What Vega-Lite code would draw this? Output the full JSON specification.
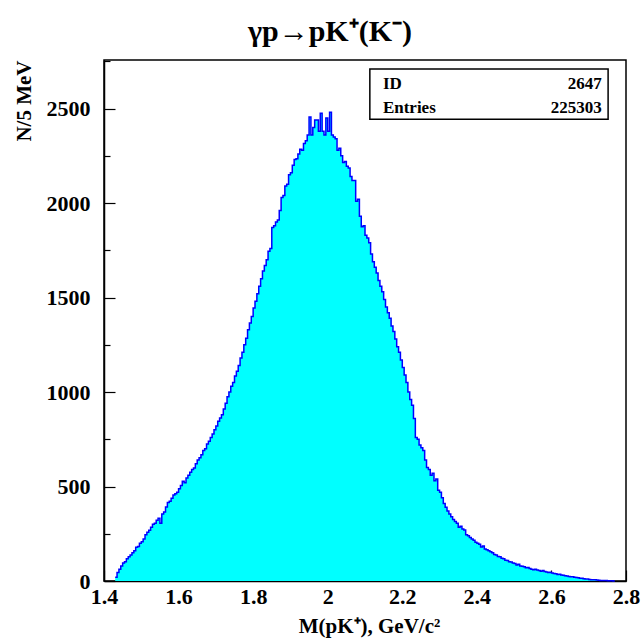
{
"$schema": "https://vega.github.io/schema/vega-lite/v6.json",
"width": 522, "height": 521,
"autosize": {"type": "none"},
"padding": {"left": 104, "top": 60, "right": 17, "bottom": 59},
"background": "white",
"config": {"view": {"stroke": "black", "strokeWidth": 1.5}, "font": "Liberation Serif"},
"title": {"text": "γp→pK⁺(K⁻)", "fontSize": 30, "fontWeight": "bold", "font": "Liberation Serif", "anchor": "middle", "dx": -35, "dy": 38, "offset": 17, "baseline": "alphabetic", "color": "black"},
"datasets": {"hist": [
{"m":1.430,"n":20},{"m":1.435,"n":45},{"m":1.440,"n":62},{"m":1.445,"n":80},{"m":1.450,"n":95},{"m":1.455,"n":102},{"m":1.460,"n":118},{"m":1.465,"n":128},{"m":1.470,"n":138},{"m":1.475,"n":150},
{"m":1.480,"n":160},{"m":1.485,"n":178},{"m":1.490,"n":182},{"m":1.495,"n":200},{"m":1.500,"n":208},{"m":1.505,"n":222},{"m":1.510,"n":245},{"m":1.515,"n":258},{"m":1.520,"n":268},{"m":1.525,"n":285},
{"m":1.530,"n":300},{"m":1.535,"n":305},{"m":1.540,"n":322},{"m":1.545,"n":332},{"m":1.550,"n":305},{"m":1.555,"n":355},{"m":1.560,"n":365},{"m":1.565,"n":392},{"m":1.570,"n":415},{"m":1.575,"n":422},
{"m":1.580,"n":438},{"m":1.585,"n":455},{"m":1.590,"n":462},{"m":1.595,"n":470},{"m":1.600,"n":488},{"m":1.605,"n":505},{"m":1.610,"n":528},{"m":1.615,"n":520},{"m":1.620,"n":545},{"m":1.625,"n":560},
{"m":1.630,"n":575},{"m":1.635,"n":590},{"m":1.640,"n":598},{"m":1.645,"n":620},{"m":1.650,"n":640},{"m":1.655,"n":652},{"m":1.660,"n":668},{"m":1.665,"n":690},{"m":1.670,"n":700},{"m":1.675,"n":725},
{"m":1.680,"n":740},{"m":1.685,"n":760},{"m":1.690,"n":778},{"m":1.695,"n":800},{"m":1.700,"n":820},{"m":1.705,"n":845},{"m":1.710,"n":862},{"m":1.715,"n":880},{"m":1.720,"n":910},{"m":1.725,"n":940},
{"m":1.730,"n":975},{"m":1.735,"n":1000},{"m":1.740,"n":1030},{"m":1.745,"n":1050},{"m":1.750,"n":1085},{"m":1.755,"n":1110},{"m":1.760,"n":1140},{"m":1.765,"n":1180},{"m":1.770,"n":1210},{"m":1.775,"n":1250},
{"m":1.780,"n":1285},{"m":1.785,"n":1330},{"m":1.790,"n":1365},{"m":1.795,"n":1400},{"m":1.800,"n":1445},{"m":1.805,"n":1480},{"m":1.810,"n":1520},{"m":1.815,"n":1560},{"m":1.820,"n":1600},{"m":1.825,"n":1640},
{"m":1.830,"n":1670},{"m":1.835,"n":1700},{"m":1.840,"n":1745},{"m":1.845,"n":1760},{"m":1.850,"n":1870},{"m":1.855,"n":1880},{"m":1.860,"n":1900},{"m":1.865,"n":1910},{"m":1.870,"n":1960},{"m":1.875,"n":2030},
{"m":1.880,"n":2040},{"m":1.885,"n":2090},{"m":1.890,"n":2100},{"m":1.895,"n":2150},{"m":1.900,"n":2160},{"m":1.905,"n":2200},{"m":1.910,"n":2230},{"m":1.915,"n":2235},{"m":1.920,"n":2260},{"m":1.925,"n":2285},
{"m":1.930,"n":2280},{"m":1.935,"n":2315},{"m":1.940,"n":2330},{"m":1.945,"n":2360},{"m":1.950,"n":2455},{"m":1.955,"n":2360},{"m":1.960,"n":2400},{"m":1.965,"n":2440},{"m":1.970,"n":2440},{"m":1.975,"n":2380},
{"m":1.980,"n":2475},{"m":1.985,"n":2380},{"m":1.990,"n":2360},{"m":1.995,"n":2450},{"m":2.000,"n":2380},{"m":2.005,"n":2480},{"m":2.010,"n":2360},{"m":2.015,"n":2350},{"m":2.020,"n":2340},{"m":2.025,"n":2280},
{"m":2.030,"n":2290},{"m":2.035,"n":2250},{"m":2.040,"n":2215},{"m":2.045,"n":2220},{"m":2.050,"n":2195},{"m":2.055,"n":2185},{"m":2.060,"n":2140},{"m":2.065,"n":2120},{"m":2.070,"n":2120},{"m":2.075,"n":2010},
{"m":2.080,"n":2020},{"m":2.085,"n":1930},{"m":2.090,"n":1875},{"m":2.095,"n":1880},{"m":2.100,"n":1830},{"m":2.105,"n":1815},{"m":2.110,"n":1790},{"m":2.115,"n":1730},{"m":2.120,"n":1690},{"m":2.125,"n":1660},
{"m":2.130,"n":1630},{"m":2.135,"n":1590},{"m":2.140,"n":1560},{"m":2.145,"n":1530},{"m":2.150,"n":1490},{"m":2.155,"n":1450},{"m":2.160,"n":1420},{"m":2.165,"n":1390},{"m":2.170,"n":1350},{"m":2.175,"n":1320},
{"m":2.180,"n":1280},{"m":2.185,"n":1240},{"m":2.190,"n":1210},{"m":2.195,"n":1170},{"m":2.200,"n":1130},{"m":2.205,"n":1090},{"m":2.210,"n":1050},{"m":2.215,"n":1000},{"m":2.220,"n":960},{"m":2.225,"n":930},
{"m":2.230,"n":860},{"m":2.235,"n":760},{"m":2.240,"n":750},{"m":2.245,"n":720},{"m":2.250,"n":705},{"m":2.255,"n":690},{"m":2.260,"n":640},{"m":2.265,"n":600},{"m":2.270,"n":590},{"m":2.275,"n":560},
{"m":2.280,"n":570},{"m":2.285,"n":530},{"m":2.290,"n":540},{"m":2.295,"n":480},{"m":2.300,"n":470},{"m":2.305,"n":440},{"m":2.310,"n":410},{"m":2.315,"n":390},{"m":2.320,"n":370},{"m":2.325,"n":355},
{"m":2.330,"n":340},{"m":2.335,"n":325},{"m":2.340,"n":315},{"m":2.345,"n":305},{"m":2.350,"n":285},{"m":2.355,"n":290},{"m":2.360,"n":275},{"m":2.365,"n":270},{"m":2.370,"n":245},{"m":2.375,"n":240},
{"m":2.380,"n":230},{"m":2.385,"n":222},{"m":2.390,"n":215},{"m":2.395,"n":205},{"m":2.400,"n":200},{"m":2.405,"n":195},{"m":2.410,"n":180},{"m":2.415,"n":185},{"m":2.420,"n":170},{"m":2.425,"n":165},
{"m":2.430,"n":160},{"m":2.435,"n":155},{"m":2.440,"n":150},{"m":2.445,"n":140},{"m":2.450,"n":138},{"m":2.455,"n":130},{"m":2.460,"n":128},{"m":2.465,"n":120},{"m":2.470,"n":118},{"m":2.475,"n":110},
{"m":2.480,"n":108},{"m":2.485,"n":102},{"m":2.490,"n":100},{"m":2.495,"n":95},{"m":2.500,"n":92},{"m":2.505,"n":85},{"m":2.510,"n":88},{"m":2.515,"n":80},{"m":2.520,"n":78},{"m":2.525,"n":75},
{"m":2.530,"n":70},{"m":2.535,"n":72},{"m":2.540,"n":66},{"m":2.545,"n":62},{"m":2.550,"n":60},{"m":2.555,"n":62},{"m":2.560,"n":58},{"m":2.565,"n":55},{"m":2.570,"n":52},{"m":2.575,"n":55},
{"m":2.580,"n":50},{"m":2.585,"n":48},{"m":2.590,"n":45},{"m":2.595,"n":46},{"m":2.600,"n":42},{"m":2.605,"n":40},{"m":2.610,"n":38},{"m":2.615,"n":35},{"m":2.620,"n":36},{"m":2.625,"n":32},
{"m":2.630,"n":30},{"m":2.635,"n":28},{"m":2.640,"n":27},{"m":2.645,"n":24},{"m":2.650,"n":22},{"m":2.655,"n":22},{"m":2.660,"n":20},{"m":2.665,"n":18},{"m":2.670,"n":17},{"m":2.675,"n":15},
{"m":2.680,"n":14},{"m":2.685,"n":12},{"m":2.690,"n":10},{"m":2.695,"n":10},{"m":2.700,"n":8},{"m":2.705,"n":7},{"m":2.710,"n":6},{"m":2.715,"n":6},{"m":2.720,"n":5},{"m":2.725,"n":4},
{"m":2.730,"n":3},{"m":2.735,"n":3},{"m":2.740,"n":2},{"m":2.745,"n":2},{"m":2.750,"n":1},{"m":2.755,"n":1},{"m":2.760,"n":1},{"m":2.765,"n":0},{"m":2.770,"n":0}
]},
"layer": [
{
"data": {"name": "hist"},
"encoding": {
"x": {"field": "m", "type": "quantitative", "title": "M(pK⁺), GeV/c²",
"scale": {"domain": [1.4, 2.8], "nice": false, "zero": false},
"axis": {
"values": [1.4,1.45,1.5,1.55,1.6,1.65,1.7,1.75,1.8,1.85,1.9,1.95,2,2.05,2.1,2.15,2.2,2.25,2.3,2.35,2.4,2.45,2.5,2.55,2.6,2.65,2.7,2.75,2.8],
"tickSize": {"condition": {"test": "abs(datum.value*5 - round(datum.value*5)) < 0.001", "value": -11}, "value": -6},
"tickColor": "black", "tickWidth": 1.2,
"labelExpr": "abs(datum.value*5 - round(datum.value*5)) < 0.001 ? format(datum.value, '.2~f') : ''",
"labelFont": "Liberation Serif", "labelFontSize": 22, "labelFontWeight": "bold", "labelColor": "black",
"labelPadding": 16, "labelFlush": false, "labelOverlap": false, "labelBound": false,
"grid": false, "domainColor": "black", "domainWidth": 1.5,
"titleFont": "Liberation Serif", "titleFontSize": 21, "titleFontWeight": "bold", "titleColor": "black",
"titleX": 265, "titleY": 51, "titleBaseline": "alphabetic"
}},
"y": {"field": "n", "type": "quantitative", "title": "N/5 MeV",
"scale": {"domain": [0, 2757], "nice": false},
"axis": {
"values": [0,250,500,750,1000,1250,1500,1750,2000,2250,2500,2750],
"tickSize": {"condition": {"test": "datum.value % 500 == 0", "value": -11}, "value": -6},
"tickColor": "black", "tickWidth": 1.2,
"labelExpr": "datum.value % 500 == 0 ? format(datum.value, 'd') : ''",
"labelFont": "Liberation Serif", "labelFontSize": 22, "labelFontWeight": "bold", "labelColor": "black",
"labelPadding": 25, "labelFlush": false, "labelOverlap": false, "labelBound": false,
"grid": false, "domainColor": "black", "domainWidth": 1.5,
"titleFont": "Liberation Serif", "titleFontSize": 21, "titleFontWeight": "bold", "titleColor": "black",
"titleX": -80, "titleY": 0, "titleAngle": -90, "titleAlign": "right", "titleBaseline": "middle"
}}
},
"layer": [
{"mark": {"type": "area", "interpolate": "step-after", "color": "#00ffff"}},
{"mark": {"type": "line", "interpolate": "step-after", "color": "#0000ff", "strokeWidth": 1.5}}
]
},
{
"data": {"values": [{}]},
"mark": {"type": "rect", "fill": "white", "stroke": "black", "strokeWidth": 1.5},
"encoding": {
"x": {"datum": 2.113, "type": "quantitative"},
"x2": {"datum": 2.752},
"y": {"datum": 2709, "type": "quantitative"},
"y2": {"datum": 2444}
}
},
{
"data": {"values": [{}]},
"mark": {"type": "text", "text": "ID", "align": "left", "baseline": "alphabetic", "font": "Liberation Serif", "fontWeight": "bold", "fontSize": 17, "color": "black"},
"encoding": {"x": {"datum": 2.148, "type": "quantitative"}, "y": {"datum": 2601, "type": "quantitative"}}
},
{
"data": {"values": [{}]},
"mark": {"type": "text", "text": "Entries", "align": "left", "baseline": "alphabetic", "font": "Liberation Serif", "fontWeight": "bold", "fontSize": 17, "color": "black"},
"encoding": {"x": {"datum": 2.148, "type": "quantitative"}, "y": {"datum": 2474, "type": "quantitative"}}
},
{
"data": {"values": [{}]},
"mark": {"type": "text", "text": "2647", "align": "right", "baseline": "alphabetic", "font": "Liberation Serif", "fontWeight": "bold", "fontSize": 17, "color": "black"},
"encoding": {"x": {"datum": 2.7347, "type": "quantitative"}, "y": {"datum": 2601, "type": "quantitative"}}
},
{
"data": {"values": [{}]},
"mark": {"type": "text", "text": "225303", "align": "right", "baseline": "alphabetic", "font": "Liberation Serif", "fontWeight": "bold", "fontSize": 17, "color": "black"},
"encoding": {"x": {"datum": 2.7347, "type": "quantitative"}, "y": {"datum": 2474, "type": "quantitative"}}
}
]
}
